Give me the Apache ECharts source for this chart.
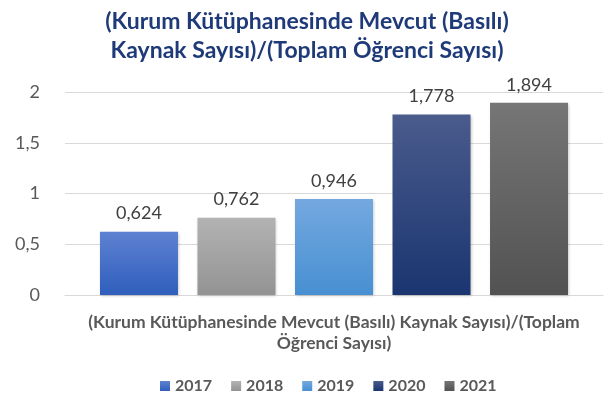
<!DOCTYPE html>
<html>
<head>
<meta charset="utf-8">
<script src="https://cdn.jsdelivr.net/npm/echarts@6/dist/echarts.min.js"></script>
<style>
  html, body { margin: 0; padding: 0; background: #fff; }
  #chart { width: 614px; height: 403px; }
</style>
</head>
<body>
<div id="chart"></div>
<script>
// Ratio of printed library holdings to total student count, by year
var categories = ['(Kurum Kütüphanesinde Mevcut (Basılı) Kaynak Sayısı)/(Toplam\nÖğrenci Sayısı)'];
var years = ['2017', '2018', '2019', '2020', '2021'];
var values = [0.624, 0.762, 0.946, 1.778, 1.894];
var yTicks = [0, 0.5, 1, 1.5, 2];

// top / bottom gradient stops and legend swatch colour per year
var palette = [
  { top: '#5E82D2', bottom: '#2F5EBC', solid: '#4472C4' },
  { top: '#B3B3B3', bottom: '#939393', solid: '#A5A5A5' },
  { top: '#74A8DF', bottom: '#4790D2', solid: '#5B9BD5' },
  { top: '#4A5B8C', bottom: '#1A3570', solid: '#264478' },
  { top: '#767676', bottom: '#525252', solid: '#636363' }
];

var FONT = 'Lato';
function comma(v) { return String(v).replace('.', ','); }

var series = years.map(function (y, i) {
  return {
    name: y,
    type: 'bar',
    data: [values[i]],
    barGap: '25%',
    barCategoryGap: '13%',
    itemStyle: {
      color: new echarts.graphic.LinearGradient(0, 0, 0, 1, [
        { offset: 0, color: palette[i].top },
        { offset: 1, color: palette[i].bottom }
      ]),
      shadowColor: 'rgba(0,0,0,0.25)',
      shadowBlur: 3,
      shadowOffsetX: 1,
      shadowOffsetY: 1
    },
    label: {
      show: true,
      position: 'top',
      distance: 9,
      color: '#404040',
      fontFamily: FONT,
      fontSize: 18,
      formatter: function (p) { return comma(p.value); }
    }
  };
});

var chart = echarts.init(document.getElementById('chart'), null, { renderer: 'canvas' });
chart.setOption({
  animation: false,
  color: palette.map(function (p) { return p.solid; }),
  title: {
    text: '(Kurum Kütüphanesinde Mevcut (Basılı)\nKaynak Sayısı)/(Toplam Öğrenci Sayısı)',
    left: 'center',
    top: 2,
    textStyle: {
      color: '#1F3A78',
      fontFamily: FONT,
      fontWeight: 'bold',
      fontSize: 23,
      lineHeight: 29
    }
  },
  legend: {
    bottom: 4,
    left: 155,
    itemWidth: 10,
    itemHeight: 10,
    itemGap: 19,
    icon: 'rect',
    textStyle: { color: '#595959', fontFamily: FONT, fontWeight: 'bold', fontSize: 16 },
    data: years
  },
  grid: { left: 65, right: 11, top: 92, bottom: 108, containLabel: false },
  xAxis: {
    type: 'category',
    data: categories,
    axisLine: { show: true, lineStyle: { color: '#D9D9D9', width: 1 } },
    axisTick: { show: false },
    axisLabel: {
      color: '#595959',
      fontFamily: FONT,
      fontWeight: 'bold',
      fontSize: 17.5,
      lineHeight: 21,
      margin: 17
    }
  },
  yAxis: {
    type: 'value',
    min: yTicks[0],
    max: yTicks[yTicks.length - 1],
    interval: 0.5,
    axisLine: { show: false },
    axisTick: { show: false },
    splitLine: { lineStyle: { color: '#D9D9D9', width: 1 } },
    axisLabel: {
      color: '#595959',
      fontFamily: FONT,
      fontSize: 18,
      margin: 25,
      formatter: function (v) { return comma(v); }
    }
  },
  series: series
});
</script>
</body>
</html>
